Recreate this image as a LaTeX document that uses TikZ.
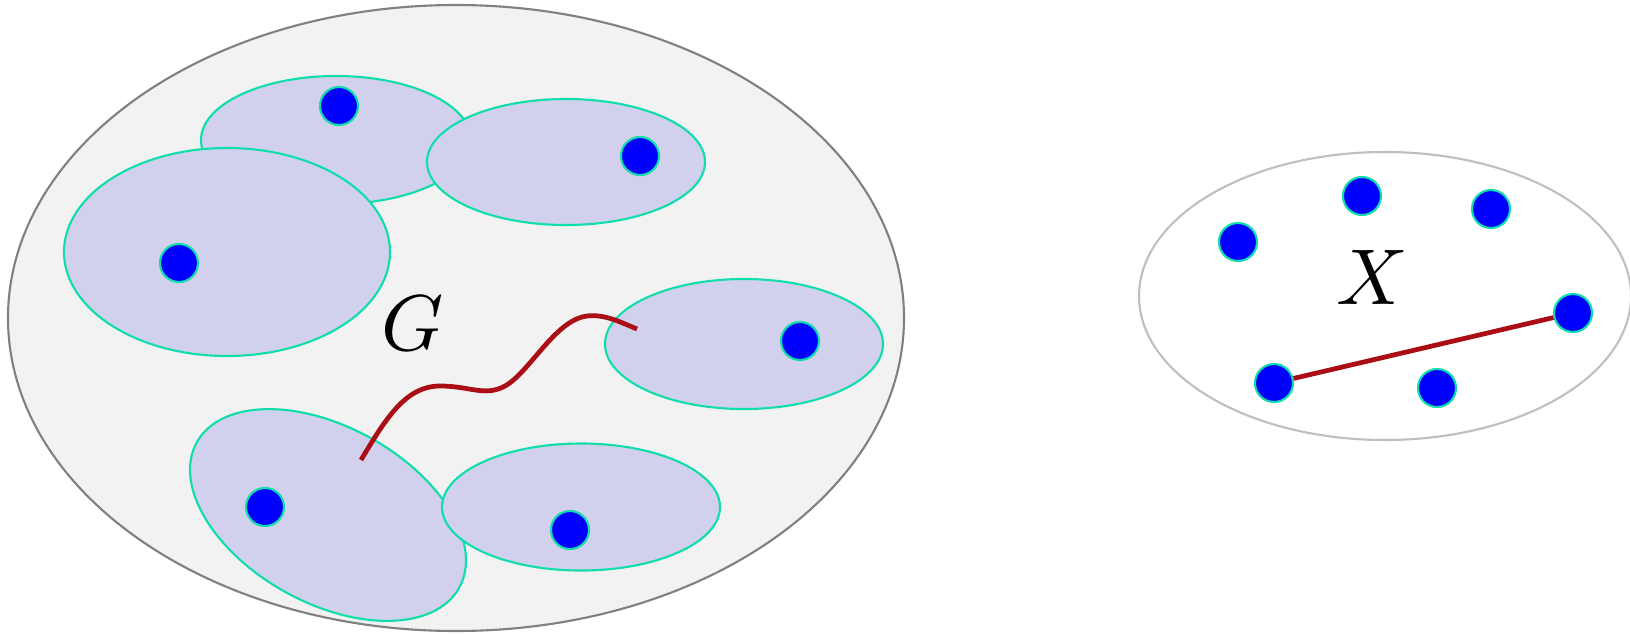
\documentclass[tikz,border=0pt]{standalone}
\usetikzlibrary{positioning}
\definecolor{SetGrey}{RGB}{242,242,242}
\definecolor{SetEdge}{RGB}{128,128,128}
\definecolor{ClusterFill}{RGB}{209,209,238}
\definecolor{ClusterEdge}{RGB}{16,222,170}
\definecolor{PointBlue}{RGB}{0,0,255}
\definecolor{PathRed}{RGB}{170,14,20}
\tikzset{
  bigset/.style={draw=SetEdge,fill=SetGrey,line width=0.6pt},
  cluster/.style={draw=ClusterEdge,fill=ClusterFill,line width=0.6pt},
  targetset/.style={draw=black!25,fill=white,line width=0.6pt},
  dotnode/.style={circle,draw=ClusterEdge,fill=PointBlue,line width=0.6pt,
    minimum size=0.38cm,inner sep=0pt},
  redpath/.style={draw=PathRed,line width=1.35pt},
  setname/.style={scale=2.25,inner sep=0pt}
}

\begin{document}
\begin{tikzpicture}[x=0.01cm,y=-0.01cm]
  \useasboundingbox (0,0) rectangle (1630,633);
  \path[bigset] (456,318) ellipse [x radius=448,y radius=313];
  \path[cluster] (336,140) ellipse [x radius=135,y radius=64];
  \path[cluster] (566,162) ellipse [x radius=139,y radius=63];
  \path[cluster] (227,252) ellipse [x radius=163,y radius=104];
  \path[cluster] (744,344) ellipse [x radius=139,y radius=65];
  \path[cluster,rotate around={-29:(328,515)}] (328,515) ellipse [x radius=150,y radius=88];
  \path[cluster] (581,507) ellipse [x radius=139,y radius=63.5];
  \node[dotnode] (g1) at (339,106) {};
  \node[dotnode] (g2) at (640,156) {};
  \node[dotnode] (g3) at (179,263) {};
  \node[dotnode] (g4) at (800,341) {};
  \node[dotnode] (g5) at (265,507) {};
  \node[dotnode] (g6) at (570,530) {};
  \node[setname] (gname) at (413,323) {$G$};
  \coordinate (pstart) at (361,460);
  \coordinate (pend) at (637,329);
  \draw[redpath] (pstart) .. controls (385,420) and (405,386) .. (440,386)
    .. controls (470,386) and (485,397) .. (505,386)
    .. controls (530,372) and (555,320) .. (587,316)
    .. controls (605,314) and (620,322) .. (pend);

  \path[targetset] (1385,296) ellipse [x radius=246,y radius=144];
  \node[dotnode] (x1) at (1238,242) {};
  \node[dotnode] (x2) at (1362,196) {};
  \node[dotnode] (x3) at (1491,209) {};
  \node[dotnode] (x4) at (1573,313) {};
  \node[dotnode] (x5) at (1274,383) {};
  \node[dotnode] (x6) at (1437,388) {};
  \node[setname] (xname) at (1372,277) {$X$};
  \draw[redpath] (x5) -- (x4);
\end{tikzpicture}
\end{document}
